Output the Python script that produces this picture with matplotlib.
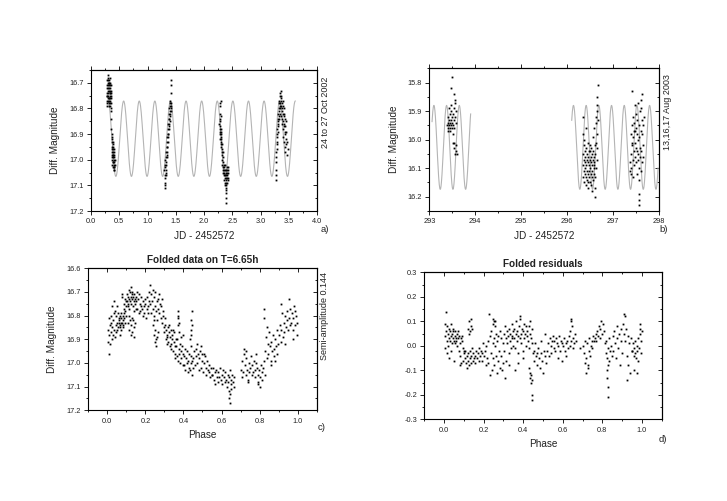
import numpy as np
import matplotlib
matplotlib.use("Agg")
import matplotlib.pyplot as plt
from matplotlib.ticker import MultipleLocator, NullFormatter, FuncFormatter

plt.rcParams['font.family'] = ['Liberation Sans', 'DejaVu Sans']

# ---------------- model parameters (fitted sinusoid) ----------------
period_a = 0.2758
epoch_a = 0.577
mean_a = 16.918
period_b = 0.2762
epoch_b = 293.10
mean_b = 16.027
semi_amp = 0.147
model_span_a = [(0.31, 3.61)]
model_span_b = [(293.06, 293.90), (296.10, 297.98)]

# ---------------- panel a: Oct 2002 ----------------
a_jd = [
    0.276,0.279,0.281,0.283,0.285,0.287,0.289,0.291,0.293,0.295,
    0.297,0.299,0.301,0.303,0.305,0.307,0.309,0.311,0.313,0.315,
    0.317,0.319,0.321,0.323,0.325,0.327,0.329,0.331,0.333,0.335,
    0.337,0.339,0.341,0.343,0.345,0.347,0.349,0.351,0.353,0.355,
    0.300,0.310,0.320,0.330,0.340,0.350,0.288,0.296,0.326,0.344,
    0.357,0.360,0.362,
    0.364,0.366,0.368,0.370,0.372,0.374,0.376,0.378,0.380,0.382,
    0.384,0.386,0.388,0.390,0.392,0.394,0.396,0.398,0.400,0.402,
    0.404,0.406,0.408,0.410,0.412,0.414,0.416,0.418,0.371,0.379,
    0.387,0.395,0.403,0.411,0.385,
    1.300,1.303,1.306,1.309,1.312,1.315,1.318,1.321,1.324,1.327,
    1.330,1.333,1.336,1.339,1.342,1.345,1.348,1.351,1.354,1.357,
    1.360,1.363,1.366,1.369,1.372,1.375,1.378,1.381,1.384,1.387,
    1.390,1.393,1.396,1.399,1.402,1.405,1.408,1.411,1.414,1.417,
    1.305,1.320,1.345,1.372,1.395,1.410,1.415,1.418,1.300,1.298,
    2.270,2.272,2.274,2.276,2.278,2.280,2.282,2.284,2.286,2.288,
    2.290,2.292,2.294,2.296,2.298,2.300,2.302,2.304,2.306,2.308,
    2.281,2.295,
    2.310,2.313,2.316,2.319,2.322,2.325,2.328,2.331,2.334,2.337,2.340,2.343,2.346,2.349,
    2.352,2.355,2.358,2.361,2.364,2.367,2.370,2.373,2.376,2.379,
    2.382,2.385,2.388,2.391,2.394,2.397,2.400,2.403,2.406,2.409,
    2.412,2.415,2.418,2.421,2.424,2.427,2.380,2.383,2.386,2.378,
    2.389,2.392,
    3.262,3.265,3.268,3.271,3.274,3.277,3.280,3.283,3.286,3.289,
    3.292,3.295,3.298,3.301,3.304,3.307,3.310,3.313,3.316,3.319,
    3.322,3.325,3.328,3.331,3.334,3.337,3.340,3.343,3.346,3.349,
    3.352,3.355,3.358,3.361,3.364,3.367,3.370,3.373,3.376,3.379,
    3.382,3.385,3.388,3.391,3.394,3.397,3.400,3.403,3.406,3.409,
    3.412,3.415,3.418,3.421,3.424,3.427,3.430,3.433,3.436,3.440,
    3.445,3.450,3.455,3.460,3.470,3.480,
]
a_mag = [
    16.78,16.74,16.71,16.77,16.69,16.75,16.72,16.79,16.70,16.76,
    16.68,16.73,16.77,16.71,16.75,16.67,16.74,16.78,16.70,16.72,
    16.76,16.69,16.73,16.79,16.71,16.75,16.68,16.74,16.77,16.72,
    16.70,16.76,16.73,16.79,16.75,16.71,16.78,16.74,16.80,16.76,
    16.72,16.76,16.70,16.78,16.74,16.73,16.75,16.69,16.77,16.71,
    16.81,16.84,16.88,
    16.91,16.95,16.90,16.98,16.93,17.00,16.96,16.92,17.02,16.97,
    16.94,17.01,16.99,16.95,17.03,16.98,16.96,17.04,17.00,16.97,
    17.02,16.99,17.03,17.01,16.98,17.04,17.02,17.00,16.97,16.99,
    16.93,17.01,16.96,17.03,16.98,
    17.06,17.09,17.03,17.07,17.10,17.02,17.05,16.99,17.04,17.01,
    16.97,17.02,16.95,16.99,16.93,16.97,16.91,16.95,16.90,16.93,
    16.88,16.91,16.86,16.90,16.84,16.88,16.82,16.86,16.80,16.84,
    16.81,16.78,16.83,16.79,16.82,16.77,16.80,16.78,16.81,16.79,
    17.00,17.06,16.98,16.87,16.85,16.74,16.71,16.69,17.11,17.04,
    16.86,16.82,16.90,16.84,16.88,16.79,16.92,16.85,16.89,16.87,
    16.91,16.83,16.93,16.88,16.90,16.94,16.92,16.95,16.89,16.97,
    16.78,16.77,
    16.96,17.00,16.94,17.02,16.98,17.04,17.01,16.97,17.05,17.03,16.99,17.06,17.02,17.04,
    17.05,17.08,17.03,17.07,17.10,17.04,17.06,17.09,17.02,17.07,
    17.05,17.10,17.04,17.08,17.06,17.03,17.09,17.05,17.07,17.04,
    17.06,17.08,17.03,17.05,17.07,17.04,17.13,17.15,17.17,17.11,
    17.12,17.09,
    17.06,17.04,17.08,17.01,16.97,16.99,16.94,16.96,16.91,16.93,
    16.88,16.90,16.86,16.89,16.84,16.87,16.82,16.85,16.80,16.83,
    16.78,16.81,16.77,16.84,16.79,16.75,16.82,16.78,16.74,16.80,
    16.76,16.73,16.79,16.83,16.77,16.75,16.81,16.78,16.86,16.80,
    16.84,16.77,16.88,16.82,16.79,16.85,16.91,16.83,16.87,16.80,
    16.93,16.86,16.82,16.89,16.95,16.84,16.90,16.87,16.97,16.92,
    16.85,16.94,16.89,16.98,16.93,16.96,
]

# ---------------- panel b: Aug 2003 ----------------
b_jd = [
    293.392,293.398,293.404,293.410,293.416,293.422,293.428,293.434,293.440,293.446,
    293.452,293.458,293.464,293.470,293.476,293.482,293.488,293.494,293.500,293.506,
    293.512,293.518,293.524,293.530,293.536,293.542,293.548,293.554,293.560,293.566,
    293.572,293.578,293.584,293.590,293.596,293.490,293.530,293.560,293.470,293.545,
    296.335,296.340,296.345,296.350,296.355,296.360,296.365,296.370,296.375,296.380,
    296.385,296.390,296.395,296.400,296.405,296.410,296.415,296.420,296.425,296.430,
    296.435,296.440,296.445,296.450,296.455,296.460,296.465,296.470,296.475,296.480,
    296.485,296.490,296.495,296.500,296.505,296.510,296.515,296.520,296.525,296.530,
    296.535,296.540,296.545,296.550,296.555,296.560,296.565,296.570,296.575,296.580,
    296.585,296.590,296.595,296.600,296.605,296.610,296.615,296.620,296.625,296.630,
    296.635,296.640,296.645,296.650,296.655,296.660,296.665,296.670,296.358,296.402,
    296.448,296.492,296.538,296.582,296.612,296.642,
    297.370,297.376,297.382,297.388,297.394,297.400,297.406,297.412,297.418,297.424,
    297.430,297.436,297.442,297.448,297.454,297.460,297.466,297.472,297.478,297.484,
    297.490,297.496,297.502,297.508,297.514,297.520,297.526,297.532,297.538,297.544,
    297.550,297.556,297.562,297.568,297.574,297.580,297.586,297.592,297.598,297.604,
    297.610,297.616,297.622,297.628,297.634,297.640,297.646,297.652,297.658,297.664,
    297.420,297.470,297.520,297.570,297.600,297.560,297.575,
]
b_mag = [
    15.95,15.92,15.97,15.94,15.96,15.89,15.95,15.93,15.97,15.91,
    15.94,15.96,15.88,15.93,15.95,15.90,15.96,15.92,15.94,15.98,
    15.91,15.95,16.01,15.93,15.89,15.96,16.03,15.92,16.05,15.87,
    16.02,15.94,16.04,15.90,16.05,15.78,15.84,15.86,15.82,16.01,
    15.92,16.05,15.98,16.09,16.13,16.02,16.07,16.11,16.15,16.08,
    16.04,16.12,16.06,16.10,16.16,16.03,16.09,16.13,16.07,16.11,
    16.05,16.14,16.08,16.01,16.12,16.06,16.17,16.09,16.04,16.11,
    16.13,16.07,16.02,16.10,16.15,16.06,16.12,16.08,16.03,16.16,
    16.09,16.05,16.13,16.11,16.07,15.99,16.14,16.04,16.10,16.06,
    15.96,16.12,16.08,16.02,16.17,16.05,16.20,15.94,16.10,16.01,
    15.92,16.07,15.88,16.03,15.90,15.85,15.93,15.81,16.00,15.96,
    16.15,16.04,16.18,16.09,16.13,15.98,
    16.11,16.08,15.98,16.12,16.05,16.10,15.83,16.02,15.95,16.07,
    15.99,16.13,15.92,16.04,15.97,16.09,15.94,16.01,15.88,16.06,
    15.96,16.03,15.91,16.08,15.98,16.12,15.93,16.05,15.87,16.00,
    16.07,15.95,16.10,15.99,16.14,16.03,15.90,16.06,15.97,15.86,
    16.04,16.11,15.93,16.08,15.98,15.84,16.02,15.95,16.06,15.92,
    16.01,15.97,16.04,16.19,15.89,16.21,16.23,
]

# ---------------- panel c: folded data ----------------
c_phase = [
    0.003,0.005,0.007,0.009,0.011,0.013,0.015,0.017,0.019,0.021,
    0.023,0.025,0.027,0.029,0.031,0.033,0.035,0.037,0.039,0.041,
    0.043,0.045,0.047,0.049,0.051,0.053,0.055,0.057,0.059,0.061,
    0.062,0.064,0.066,0.068,0.070,0.072,0.074,0.076,0.078,0.080,
    0.082,0.084,0.086,0.088,0.090,0.092,0.094,0.096,0.098,0.100,
    0.065,0.071,0.077,0.083,0.089,0.095,
    0.102,0.104,0.106,0.108,0.110,0.112,0.114,0.116,0.118,0.120,
    0.122,0.124,0.126,0.128,0.130,0.132,0.134,0.136,0.138,0.140,
    0.142,0.144,0.146,0.148,0.150,
    0.110,0.114,0.118,0.122,0.126,0.130,0.134,0.138,0.142,0.146,0.116,0.128,
    0.152,0.155,0.158,0.161,0.164,0.167,0.170,0.173,0.176,0.179,
    0.182,0.185,0.188,0.191,0.194,0.197,0.200,0.203,0.206,0.209,
    0.212,0.215,0.218,0.221,
    0.223,0.226,0.229,0.232,0.235,0.238,0.241,0.244,0.247,0.250,
    0.253,0.256,0.259,0.262,0.265,0.268,0.271,0.274,0.277,0.280,
    0.283,0.286,0.289,0.292,0.295,0.298,
    0.240,0.244,0.248,0.252,0.256,0.260,0.264,0.246,0.258,
    0.300,0.303,0.306,0.309,0.312,0.315,0.318,0.321,0.324,0.327,
    0.330,0.333,0.336,0.339,0.342,0.345,0.348,0.351,0.354,0.357,
    0.360,0.305,0.315,0.325,0.335,0.345,0.355,
    0.362,0.365,0.368,0.371,0.374,0.377,0.380,0.383,0.386,0.389,
    0.392,0.395,0.398,0.370,0.371,0.372,0.373,0.374,0.376,0.388,0.396,
    0.401,0.404,0.407,0.410,0.413,0.416,0.419,0.422,0.425,0.428,
    0.431,0.434,0.437,0.440,0.443,0.446,0.449,
    0.436,0.438,0.440,0.442,0.444,0.446,0.439,
    0.452,0.456,0.460,0.464,0.468,0.472,0.476,0.480,0.484,0.488,
    0.492,0.496,0.500,0.504,0.508,0.512,0.516,0.520,0.524,0.528,
    0.532,0.536,0.540,0.544,0.548,0.470,0.490,0.510,
    0.552,0.556,0.560,0.564,0.568,0.572,0.576,0.580,0.584,0.588,
    0.592,0.596,0.600,0.604,0.608,0.612,0.616,0.620,0.624,0.628,
    0.632,0.636,0.640,0.644,0.648,0.652,0.656,0.660,0.664,0.668,
    0.638,0.641,0.643,0.646,0.650,
    0.702,0.706,0.710,0.714,0.718,0.722,0.726,0.730,0.734,0.738,
    0.742,0.746,0.750,0.754,0.758,0.720,0.730,0.740,
    0.762,0.766,0.770,0.774,0.778,0.782,0.786,0.790,0.794,0.798,
    0.802,0.806,0.810,0.814,0.818,0.822,0.826,0.780,0.790,0.800,0.824,0.823,
    0.830,0.834,0.838,0.842,0.846,0.850,0.854,0.858,0.862,0.866,
    0.870,0.874,0.878,0.882,0.886,0.890,0.894,0.898,0.840,0.860,0.880,
    0.902,0.906,0.910,0.914,0.918,0.922,0.926,0.930,0.934,0.938,
    0.942,0.946,0.950,0.954,0.958,0.962,0.966,0.970,0.974,0.978,
    0.982,0.986,0.990,0.994,0.998,0.915,0.935,0.955,0.975,0.985,
]
c_mag = [
    16.86,16.91,16.81,16.96,16.88,16.84,16.92,16.80,16.87,16.83,
    16.90,16.85,16.76,16.88,16.82,16.74,16.86,16.79,16.89,16.78,
    16.84,16.87,16.80,16.76,16.83,16.86,16.79,16.85,16.81,16.83,
    16.82,16.85,16.80,16.84,16.81,16.86,16.79,16.83,16.72,16.82,
    16.80,16.84,16.77,16.81,16.75,16.83,16.78,16.74,16.80,16.76,
    16.88,16.83,16.71,16.85,16.79,16.73,
    16.74,16.71,16.76,16.72,16.75,16.69,16.73,16.77,16.70,16.74,
    16.68,16.72,16.75,16.71,16.73,16.70,16.76,16.72,16.74,16.78,
    16.71,16.75,16.73,16.77,16.72,
    16.83,16.86,16.82,16.88,16.84,16.87,16.82,16.85,16.89,16.83,16.80,16.81,
    16.74,16.70,16.77,16.73,16.79,16.71,16.75,16.78,16.76,16.72,
    16.77,16.80,16.74,16.76,16.79,16.73,16.75,16.81,16.77,16.72,
    16.76,16.79,16.74,16.70,
    16.67,16.75,16.71,16.79,16.74,16.69,16.77,16.72,16.80,16.76,
    16.70,16.78,16.74,16.82,16.73,16.77,16.71,16.79,16.75,16.81,
    16.76,16.73,16.83,16.78,16.80,16.85,
    16.84,16.88,16.91,16.86,16.93,16.89,16.87,16.82,16.90,
    16.87,16.84,16.90,16.86,16.92,16.88,16.85,16.91,16.87,16.93,
    16.89,16.86,16.94,16.90,16.88,16.95,16.91,16.87,16.93,16.96,
    16.90,16.81,16.89,16.84,16.92,16.86,16.98,
    16.93,16.97,16.90,16.99,16.94,16.96,16.92,17.00,16.95,16.98,
    16.93,17.01,16.96,16.78,16.81,16.84,16.80,16.87,16.83,16.89,16.88,
    16.97,17.01,16.94,17.03,16.98,17.00,16.95,17.04,16.99,17.02,
    16.96,17.03,17.00,16.97,17.05,16.99,17.02,
    16.90,16.86,16.82,16.88,16.78,16.84,16.93,
    16.98,16.95,17.01,16.97,16.94,17.00,16.96,17.03,16.98,16.95,
    17.02,16.99,16.96,17.04,17.00,16.97,17.02,17.05,16.99,17.03,
    17.01,17.04,17.06,17.02,17.05,16.92,16.93,16.96,
    17.05,17.02,17.07,17.04,17.09,17.03,17.06,17.08,17.04,17.06,
    17.02,17.07,17.05,17.09,17.03,17.06,17.08,17.04,17.07,17.10,
    17.05,17.08,17.06,17.03,17.09,17.07,17.05,17.08,17.06,17.10,
    17.12,17.15,17.17,17.13,17.11,
    17.03,17.06,16.99,17.04,16.96,17.01,17.05,16.98,17.03,17.07,
    17.00,17.04,17.02,16.97,17.05,16.94,16.95,17.08,
    17.01,17.04,16.99,17.03,17.06,17.00,17.02,17.05,17.08,17.03,
    17.06,17.01,17.04,17.07,17.02,16.99,17.05,16.96,17.09,17.10,16.77,16.81,
    16.95,16.89,16.98,16.92,16.96,16.87,16.93,16.99,16.91,16.95,
    16.88,16.94,16.97,16.90,16.93,16.86,16.96,16.92,16.85,17.01,16.99,
    16.88,16.84,16.91,16.86,16.79,16.89,16.83,16.87,16.80,16.85,
    16.82,16.78,16.86,16.81,16.84,16.77,16.83,16.79,16.86,16.81,
    16.76,16.84,16.80,16.88,16.83,16.75,16.92,16.73,16.90,16.78,
]

# ---------------- panel d: folded residuals ----------------
d_phase = [
    0.003,0.005,0.007,0.009,0.011,0.013,0.015,0.017,0.019,0.021,
    0.023,0.025,0.027,0.029,0.031,0.033,0.035,0.037,0.039,0.041,
    0.043,0.045,0.047,0.049,0.051,0.053,0.055,0.057,0.059,
    0.061,0.064,0.067,0.070,0.073,0.076,0.079,0.082,0.085,0.088,
    0.091,0.094,0.097,0.100,0.070,0.080,0.090,
    0.102,0.105,0.108,0.111,0.114,0.117,0.120,0.123,0.126,0.129,
    0.132,0.135,0.138,0.141,0.144,0.147,0.150,
    0.122,0.125,0.128,0.131,0.134,0.137,0.140,
    0.154,0.158,0.162,0.166,0.170,0.174,0.178,0.182,0.186,0.190,
    0.194,0.198,0.202,0.206,0.210,0.214,0.218,
    0.221,0.224,0.227,0.230,0.233,0.236,0.239,0.242,0.245,0.248,
    0.251,0.254,0.257,0.260,0.263,0.266,0.269,0.272,0.275,0.278,
    0.281,0.284,0.287,0.290,0.293,0.296,0.299,
    0.245,0.248,0.252,0.255,0.258,
    0.302,0.305,0.308,0.311,0.314,0.317,0.320,0.323,0.326,0.329,
    0.332,0.335,0.338,0.341,0.344,0.347,0.350,0.310,0.330,0.345,
    0.352,0.355,0.358,0.361,0.364,0.367,0.370,0.373,0.376,0.379,
    0.382,0.385,0.388,0.391,0.394,0.397,0.400,0.403,0.406,0.409,
    0.412,0.415,0.418,0.360,0.372,0.385,0.400,
    0.421,0.424,0.427,0.430,0.433,0.436,0.439,0.442,0.445,0.448,
    0.430,0.433,0.436,0.439,0.441,0.443,0.445,0.446,
    0.452,0.456,0.460,0.464,0.468,0.472,0.476,0.480,0.484,0.488,
    0.492,0.496,0.500,0.504,0.508,0.512,0.516,
    0.522,0.526,0.530,0.534,0.538,0.542,0.546,0.550,0.554,0.558,
    0.562,0.566,0.570,0.574,0.578,0.582,0.586,0.590,0.594,0.598,
    0.602,0.606,0.610,0.614,0.618,0.622,0.626,0.630,0.634,0.638,
    0.642,0.646,0.650,0.654,0.658,0.662,0.666,0.641,0.643,
    0.685,0.700,
    0.705,0.710,0.714,0.718,0.722,0.726,0.730,0.734,0.738,0.742,
    0.746,0.750,0.754,0.758,0.716,0.728,
    0.762,0.766,0.770,0.774,0.778,0.782,0.786,0.790,0.794,0.798,0.802,0.806,
    0.812,0.816,0.820,0.824,0.828,0.832,0.836,0.840,0.844,0.848,
    0.822,0.825,0.827,0.829,0.831,
    0.852,0.856,0.860,0.864,0.868,0.872,0.876,0.880,0.884,0.888,
    0.892,0.896,0.900,
    0.904,0.908,0.912,0.916,0.920,0.924,0.928,0.932,0.936,0.940,
    0.944,0.948,0.910,0.925,
    0.952,0.955,0.958,0.961,0.964,0.967,0.970,0.973,0.976,0.979,
    0.982,0.985,0.988,0.991,0.994,0.997,1.000,0.960,0.975,0.990,
]
d_resid = [
    0.04,0.09,-0.01,0.14,0.06,0.02,0.08,-0.03,0.05,0.00,
    0.07,0.03,-0.05,0.06,0.02,0.09,0.04,-0.02,0.05,0.01,
    0.06,0.03,0.07,0.02,-0.06,0.04,0.06,0.01,0.03,
    0.02,0.05,0.00,0.03,-0.02,0.04,0.01,-0.04,0.03,-0.07,
    0.02,-0.01,-0.06,-0.02,0.06,-0.08,0.04,
    -0.03,-0.05,-0.02,-0.07,-0.04,-0.09,-0.03,-0.06,-0.08,-0.02,
    -0.05,-0.07,-0.04,-0.01,-0.06,-0.03,-0.05,
    0.07,0.05,0.10,0.06,0.08,0.11,0.07,
    -0.04,-0.07,-0.02,-0.05,-0.03,-0.06,-0.01,-0.04,-0.02,-0.03,
    -0.06,0.01,-0.04,-0.02,-0.08,0.00,-0.05,
    0.02,-0.07,0.13,-0.12,0.04,-0.03,0.06,-0.10,0.01,-0.05,
    0.03,-0.08,0.00,-0.04,0.05,-0.11,0.02,-0.06,0.04,-0.02,
    -0.09,0.06,-0.04,0.03,-0.10,0.01,-0.07,
    0.09,0.11,0.10,0.08,0.10,
    0.05,-0.02,0.08,0.03,-0.06,0.06,0.01,0.04,-0.03,0.07,
    0.02,0.05,-0.01,0.03,0.09,0.00,0.06,-0.13,-0.08,0.04,
    0.03,0.07,-0.01,0.05,0.10,0.02,0.06,0.04,-0.03,0.08,
    0.03,0.11,0.05,0.01,0.07,-0.02,0.06,0.09,0.03,0.05,
    0.00,0.08,0.04,-0.10,-0.07,0.12,-0.05,
    0.06,0.02,0.08,-0.01,0.05,0.10,0.03,0.07,0.01,-0.03,
    -0.09,-0.11,-0.13,-0.15,-0.12,-0.14,-0.20,-0.22,
    -0.02,-0.06,0.01,-0.04,-0.08,-0.03,-0.01,-0.05,-0.09,0.02,
    -0.03,-0.06,-0.11,-0.02,0.05,-0.04,-0.07,
    -0.02,0.01,-0.04,0.03,0.00,-0.03,0.02,0.04,-0.01,0.02,
    -0.02,0.03,0.01,-0.05,0.00,0.04,-0.02,0.02,-0.06,0.01,
    0.00,0.03,-0.02,0.01,-0.04,0.02,-0.01,0.04,0.00,0.06,
    0.02,0.08,-0.01,0.03,0.01,0.05,0.02,0.11,0.10,
    -0.01,0.00,
    -0.03,-0.07,0.02,-0.05,0.01,-0.09,-0.02,0.03,-0.04,0.00,
    0.02,-0.01,0.04,0.02,-0.11,-0.08,
    0.03,0.05,0.02,0.06,0.04,0.08,0.03,0.07,0.10,0.05,0.09,0.06,
    0.01,-0.03,0.02,-0.05,-0.01,0.03,-0.06,-0.02,0.00,-0.04,
    -0.10,-0.13,-0.17,-0.21,-0.08,
    0.04,-0.02,0.06,0.01,-0.05,0.03,0.08,-0.01,0.05,-0.08,
    0.02,0.07,-0.03,
    0.09,0.05,0.12,0.02,0.07,-0.04,0.04,-0.08,0.01,-0.11,
    0.03,-0.02,0.13,-0.14,
    -0.02,0.01,-0.04,-0.01,-0.03,0.02,-0.05,0.00,-0.02,-0.06,
    0.03,-0.01,0.05,0.07,0.02,-0.03,0.06,-0.10,-0.11,0.09,
]

# ---------------- figure ----------------
W, H = 727, 501
fig = plt.figure(figsize=(W / 100, H / 100), dpi=100)

def px_axes(l, t, r, b):
    return fig.add_axes([l / W, 1 - b / H, (r - l) / W, (b - t) / H])

TXT = '#222222'
TICK_FS = 5.3
LAB_FS = 7.2

def style(ax, xmaj, xmin, ymaj, ymin, fmt_x='{:.1f}', top_dir='in'):
    for axis, maj, mn in ((ax.xaxis, xmaj, xmin), (ax.yaxis, ymaj, ymin)):
        axis.set_major_locator(MultipleLocator(maj))
        axis.set_minor_locator(MultipleLocator(mn))
    ax.tick_params(which='both', direction='out', top=False, right=False,
                   labelsize=TICK_FS, labelcolor=TXT, width=0.6, pad=2)
    ax.tick_params(which='major', length=3.2)
    ax.tick_params(which='minor', length=1.7)
    for s in ax.spines.values():
        s.set_linewidth(0.8)
    ax.xaxis.set_major_formatter(FuncFormatter(lambda v, p: fmt_x.format(v)))
    ax.yaxis.set_major_formatter(FuncFormatter(lambda v, p: '{:.1f}'.format(v)))
    # mirrored top / right ticks
    sx = ax.secondary_xaxis('top')
    sy = ax.secondary_yaxis('right')
    for sec, maj, mn, d in ((sx, xmaj, xmin, top_dir), (sy, ymaj, ymin, 'in')):
        ax_ = sec.xaxis if sec is sx else sec.yaxis
        ax_.set_major_locator(MultipleLocator(maj))
        ax_.set_minor_locator(MultipleLocator(mn))
        ax_.set_major_formatter(NullFormatter())
        sec.tick_params(which='both', direction=d, width=0.6)
        sec.tick_params(which='major', length=3.2)
        sec.tick_params(which='minor', length=1.7)
        for s in sec.spines.values():
            s.set_linewidth(0.8)

DOT = dict(marker='s', ms=1.3, mew=0, color='black', ls='none')
CURVE = dict(color='#b4b4b4', lw=0.8)

# panel a
ax_a = px_axes(91, 70, 317.3, 211)
for t0, t1 in model_span_a:
    t = np.linspace(t0, t1, 800)
    ax_a.plot(t, mean_a - semi_amp * np.cos(2 * np.pi * (t - epoch_a) / period_a), **CURVE)
ax_a.plot(a_jd, a_mag, **DOT)
ax_a.set_xlim(0, 4)
ax_a.set_ylim(17.2, 16.65)
style(ax_a, 0.5, 0.25, 0.1, 0.05, top_dir='out')
ax_a.set_xlabel('JD - 2452572', fontsize=LAB_FS, color=TXT, labelpad=4)
ax_a.set_ylabel('Diff. Magnitude', fontsize=LAB_FS, color=TXT, labelpad=7)

# panel b
ax_b = px_axes(429.3, 68.3, 659, 211)
for t0, t1 in model_span_b:
    t = np.linspace(t0, t1, 800)
    ax_b.plot(t, mean_b - semi_amp * np.cos(2 * np.pi * (t - epoch_b) / period_b), **CURVE)
ax_b.plot(b_jd, b_mag, **DOT)
ax_b.set_xlim(293, 298)
ax_b.set_ylim(16.25, 15.75)
style(ax_b, 1, 0.5, 0.1, 0.05, fmt_x='{:.0f}', top_dir='out')
ax_b.set_xlabel('JD - 2452572', fontsize=LAB_FS, color=TXT, labelpad=4)
ax_b.set_ylabel('Diff. Magnitude', fontsize=LAB_FS, color=TXT, labelpad=6)

# panel c
ax_c = px_axes(88.3, 268.3, 316.7, 410.3)
ax_c.plot(c_phase, c_mag, **DOT)
ax_c.set_xlim(-0.1, 1.1)
ax_c.set_ylim(17.2, 16.6)
style(ax_c, 0.2, 0.1, 0.1, 0.05)
ax_c.set_xlabel('Phase', fontsize=LAB_FS, color=TXT, labelpad=4)
ax_c.set_ylabel('Diff. Magnitude', fontsize=LAB_FS, color=TXT, labelpad=7)
ax_c.set_title('Folded data on T=6.65h', fontsize=7.2, fontweight='bold', color=TXT, pad=4)

# panel d
ax_d = px_axes(424.3, 272.3, 661.7, 419.3)
ax_d.plot(d_phase, d_resid, **DOT)
ax_d.set_xlim(-0.1, 1.1)
ax_d.set_ylim(-0.3, 0.3)
style(ax_d, 0.2, 0.1, 0.1, 0.05)
ax_d.set_xlabel('Phase', fontsize=LAB_FS, color=TXT, labelpad=4)
ax_d.set_title('Folded residuals', fontsize=7.2, fontweight='bold', color=TXT, pad=4)

# side annotations
side = dict(rotation=90, ha='center', va='center', fontsize=6.5, color=TXT)
fig.text(326 / W, 1 - 112 / H, '24 to 27 Oct 2002', **side)
fig.text(667 / W, 1 - 112 / H, '13,16,17 Aug 2003', **side)
fig.text(324.5 / W, 1 - 316 / H, 'Semi-amplitude 0.144', **side)
lab = dict(ha='center', va='center', fontsize=6.8, color=TXT)
fig.text(325 / W, 1 - 230 / H, 'a)', **lab)
fig.text(664 / W, 1 - 230 / H, 'b)', **lab)
fig.text(322 / W, 1 - 427 / H, 'c)', **lab)
fig.text(663 / W, 1 - 439 / H, 'd)', **lab)

fig.savefig('out.png', dpi=100, facecolor='white')
